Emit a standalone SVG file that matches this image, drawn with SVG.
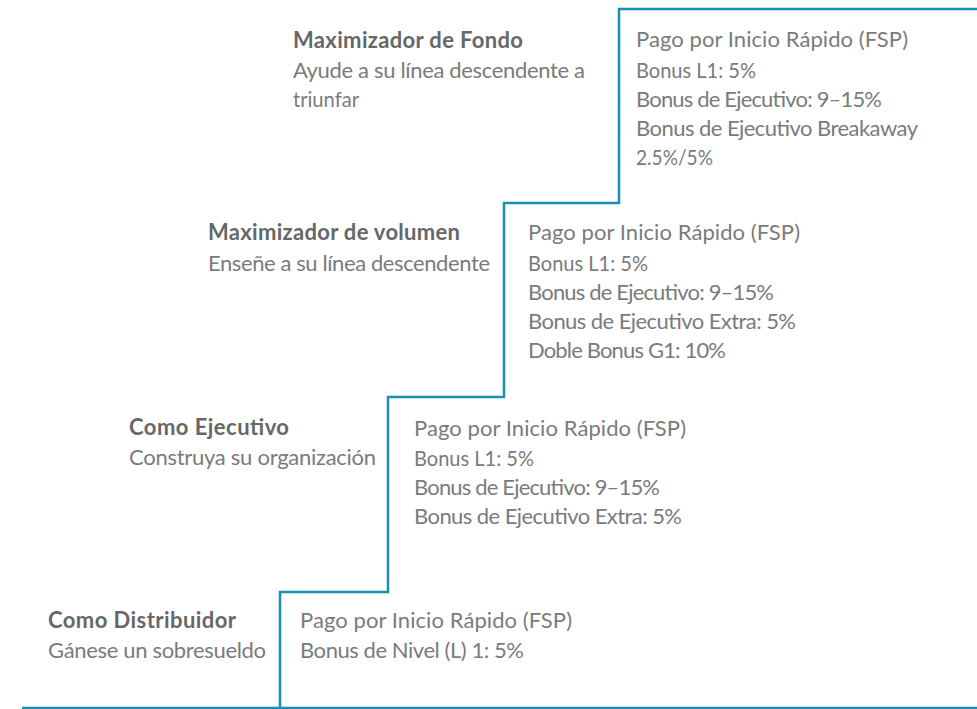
<svg xmlns="http://www.w3.org/2000/svg" width="977" height="709" viewBox="0 0 977 709">
<style>
text{font-family:Lato,"Open Sans","Liberation Sans",sans-serif;font-size:22px;fill:#7a7b7c}
.h{font-weight:bold;fill:#666768}
.s{lengthAdjust:spacingAndGlyphs}
.stair{fill:none;stroke:#1b8fb1;stroke-width:2.5}
</style>
<rect width="977" height="709" fill="#fff"/>
<g id="connectors">
<line class="stair" x1="22" y1="708" x2="977" y2="708" stroke-width="1.5"/>
<polyline class="stair" points="280,708 280,592 388,592 388,397 504,397 504,203 619,203 619,9 977,9"/>
</g>
<g id="step1">
<text class="h" x="48" y="628" textLength="188">Como Distribuidor</text>
<text x="48" y="658" textLength="218">Gánese un sobresueldo</text>
<text x="300" y="628" textLength="272">Pago por Inicio Rápido (FSP)</text>
<text x="300" y="658" textLength="224">Bonus de Nivel (L) 1: 5%</text>
</g>
<g id="step2">
<text class="h" x="129" y="435" textLength="160">Como Ejecutivo</text>
<text x="129" y="465" textLength="247">Construya su organización</text>
<text x="414" y="436" textLength="272">Pago por Inicio Rápido (FSP)</text>
<text x="414" y="466" textLength="120" lengthAdjust="spacingAndGlyphs">Bonus L1: 5%</text>
<text x="414" y="495" textLength="246">Bonus de Ejecutivo: 9–15%</text>
<text x="414" y="524" textLength="268">Bonus de Ejecutivo Extra: 5%</text>
</g>
<g id="step3">
<text class="h" x="208" y="240" textLength="252">Maximizador de volumen</text>
<text x="208" y="271" textLength="282">Enseñe a su línea descendente</text>
<text x="528" y="240" textLength="272">Pago por Inicio Rápido (FSP)</text>
<text x="528" y="271" textLength="120" lengthAdjust="spacingAndGlyphs">Bonus L1: 5%</text>
<text x="528" y="300" textLength="246">Bonus de Ejecutivo: 9–15%</text>
<text x="528" y="329" textLength="268">Bonus de Ejecutivo Extra: 5%</text>
<text x="528" y="358" textLength="198">Doble Bonus G1: 10%</text>
</g>
<g id="step4">
<text class="h" x="293" y="48" textLength="230">Maximizador de Fondo</text>
<text x="293" y="78" textLength="292">Ayude a su línea descendente a</text>
<text x="293" y="107" textLength="66" lengthAdjust="spacingAndGlyphs">triunfar</text>
<text x="636" y="47" textLength="272">Pago por Inicio Rápido (FSP)</text>
<text x="636" y="78" textLength="120" lengthAdjust="spacingAndGlyphs">Bonus L1: 5%</text>
<text x="636" y="107" textLength="246">Bonus de Ejecutivo: 9–15%</text>
<text x="636" y="136" textLength="282">Bonus de Ejecutivo Breakaway</text>
<text x="636" y="165" textLength="77" lengthAdjust="spacingAndGlyphs">2.5%/5%</text>
</g>
</svg>
